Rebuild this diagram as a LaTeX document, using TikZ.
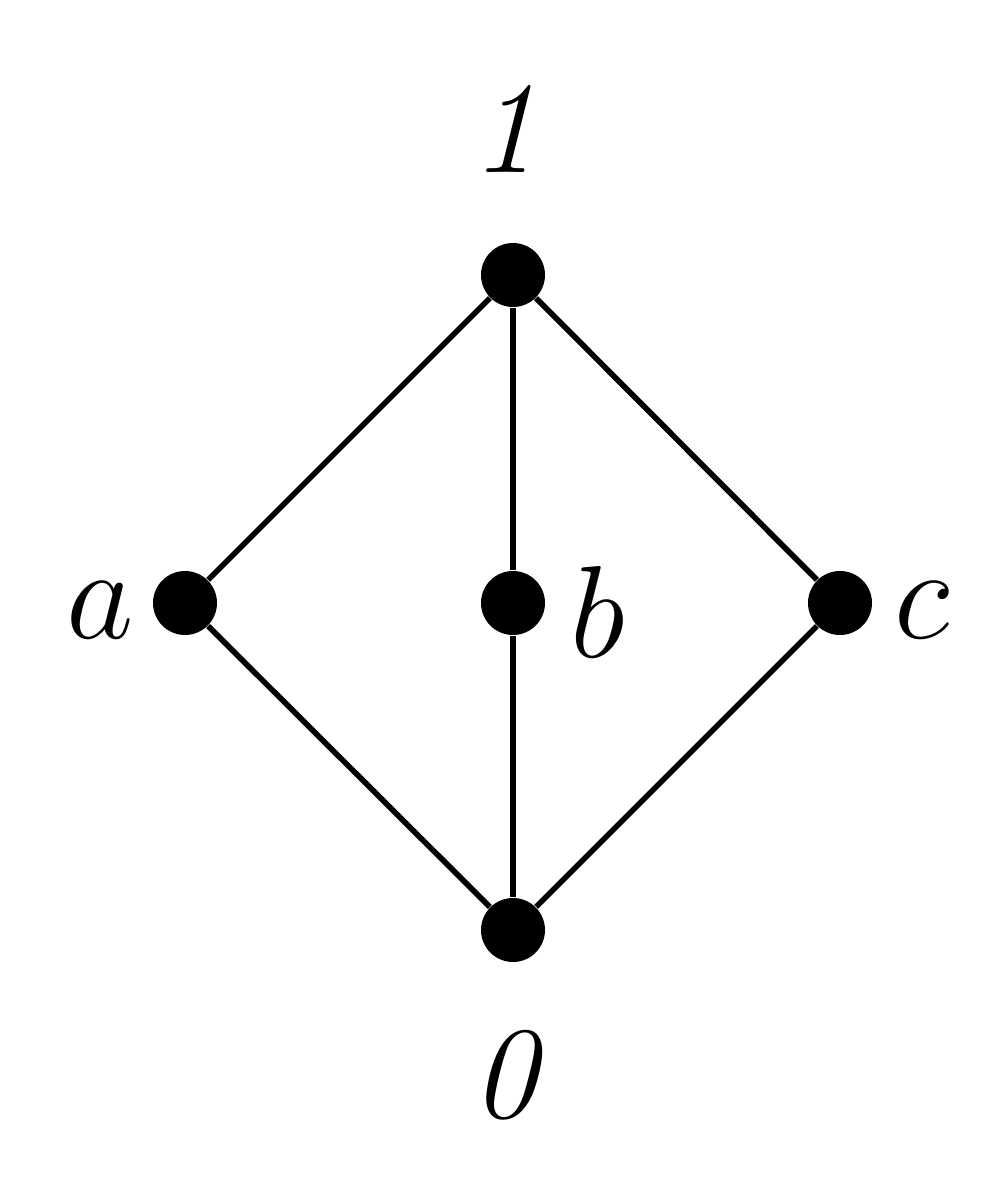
\documentclass[tikz,border=0pt]{standalone}
\usetikzlibrary{positioning}

\tikzset{
  elem/.style={circle, fill=black, inner sep=0pt, minimum size=6.4mm},
  lbl/.style={font=\Huge, scale=1.5, inner sep=0pt}
}

\begin{document}
\begin{tikzpicture}

\useasboundingbox (0,0) rectangle (9.95,12);

% Define elements of the lattice
\node[elem] (one) at (5.13,9.25) {};
\node[elem] (a) at (1.85,5.97) {};
\node[elem] (b) at (5.13,5.97) {};
\node[elem] (c) at (8.40,5.97) {};
\node[elem] (zero) at (5.13,2.70) {};

% Draw covering relations
\draw[line width=1.6pt] (one) -- (a) -- (zero);
\draw[line width=1.6pt] (one) -- (b) -- (zero);
\draw[line width=1.6pt] (one) -- (c) -- (zero);

% Element labels
\node[lbl] (lone) at (5.13,10.70) {$\mathit{1}$};
\node[lbl] (lzero) at (5.13,1.25) {$\mathit{0}$};
\node[lbl] (la) at (1.00,5.90) {$a$};
\node[lbl] (lb) at (5.98,5.88) {$b$};
\node[lbl] (lc) at (9.22,5.90) {$c$};

\end{tikzpicture}
\end{document}
